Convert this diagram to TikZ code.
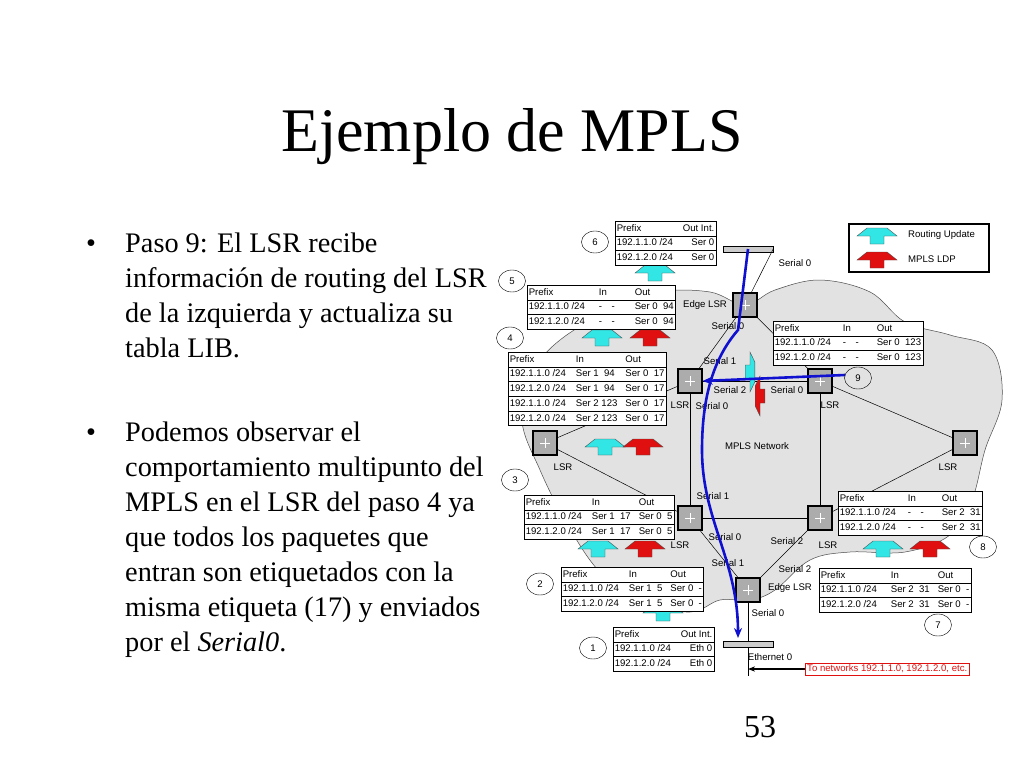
\documentclass[tikz,border=0pt]{standalone}
\usepackage{fontspec}
\setmainfont{Liberation Serif}
\newfontfamily\arialfont{Liberation Sans}
\usetikzlibrary{arrows.meta, positioning, calc, shapes.geometric}
\definecolor{cloudgray}{HTML}{E2E2E2}
\definecolor{updcyan}{HTML}{33E6E6}
\definecolor{ldpred}{HTML}{E01010}
\definecolor{pathblue}{HTML}{1010D0}
\newcommand{\tabfont}{\arialfont\fontsize{9.6}{11}\selectfont}
% block arrow: x, y, colour, extra transform
\newcommand{\blockarr}[4]{%
  \fill[#3, draw=black!70, line width=0.4pt, shift={(#1,#2)}, #4]
    (-10,-8) -- (10,-8) -- (20,0) -- (7,0) -- (7,8) -- (-7,8) -- (-7,0) -- (-20,0) -- cycle;}
\renewcommand{\arraystretch}{1.3}
\begin{document}
\begin{tikzpicture}[x=1pt, y=-1pt,
  lsrbox/.style={rectangle, draw=black, line width=1.2pt, fill=gray!65, minimum size=24pt, inner sep=0pt,
    path picture={\draw[white, line width=1pt] ($(path picture bounding box.center)+(-5,0)$) -- ++(10,0)
      ($(path picture bounding box.center)+(0,-5)$) -- ++(0,10);}},
  hubbox/.style={rectangle, draw=black, fill=gray!40, minimum width=50pt, minimum height=6pt, inner sep=0pt},
  tab/.style={draw=black, fill=white, inner sep=0pt, font=\tabfont, anchor=north west},
  num/.style={ellipse, draw=black, minimum width=27pt, minimum height=22pt, inner sep=0pt, font=\tabfont},
  lbl/.style={font=\tabfont, inner sep=1pt},
  link/.style={black, line width=0.5pt},
  bluepath/.style={pathblue, line width=2.6pt, -{Stealth[length=10pt, width=8pt]}},
  bullettext/.style={anchor=north west, align=left, inner sep=0pt, font=\fontsize{28.3}{35}\selectfont},
  bulletdot/.style={anchor=base west, inner sep=0pt, font=\fontsize{28.3}{35}\selectfont}
]
  \useasboundingbox[fill=white] (0,0) rectangle (1024,768);

  % Title, text and page number
  \node (title) at (512,137) {\fontsize{62}{70}\selectfont Ejemplo de MPLS};
  \node[bulletdot] (b1dot) at (86,252) {\textbullet};
  \node[bullettext] (b1) at (125,233) {Paso 9: El LSR recibe\\información de routing del LSR\\de la izquierda y actualiza su\\tabla LIB.};
  \node[bulletdot] (b2dot) at (86,441) {\textbullet};
  \node[bullettext] (b2) at (125,422) {Podemos observar el\\comportamiento multipunto del\\MPLS en el LSR del paso 4 ya\\que todos los paquetes que\\entran son etiquetados con la\\misma etiqueta (17) y enviados\\por el \textit{Serial0}.};
  \node (page) at (760,727) {\fontsize{32}{36}\selectfont 53};

  % Cloud
  \draw[fill=cloudgray, draw=black!70, line width=0.5pt] plot[smooth cycle, tension=0.6] coordinates {
    (560,340) (610,310) (660,292) (710,292) (745,305) (775,290) (820,280) (870,292) (905,322)
    (950,335) (992,350) (1002,400) (985,450) (972,500) (950,535) (905,552) (850,552) (810,560)
    (775,590) (750,600) (720,600) (690,612) (640,602) (598,570) (565,520) (540,470) (522,420) (535,370)};

  % Routers and hubs
  \node[hubbox] (hubtop) at (748,249) {};
  \node[hubbox] (hubbot) at (748,644) {};
  \node[lsrbox] (edgetop) at (745,305) {};
  \node[lsrbox] (lsrml) at (690,381) {};
  \node[lsrbox] (lsrmr) at (820,381) {};
  \node[lsrbox] (lsrfl) at (545,443) {};
  \node[lsrbox] (lsrfr) at (965,443) {};
  \node[lsrbox] (lsrll) at (690,518) {};
  \node[lsrbox] (lsrlr) at (820,518) {};
  \node[lsrbox] (edgebot) at (748,590) {};
  \coordinate (ethend) at (748,676);

  % Links
  \draw[link] (hubtop.east) -- (edgetop);
  \draw[link] (edgetop) -- (lsrml);
  \draw[link] (edgetop) -- (lsrmr);
  \draw[link] (lsrml) -- (lsrmr);
  \draw[link] (lsrml) -- (lsrfl);
  \draw[link] (lsrmr) -- (lsrfr);
  \draw[link] (lsrml) -- (lsrll);
  \draw[link] (lsrmr) -- (lsrlr);
  \draw[link] (lsrll) -- (lsrlr);
  \draw[link] (lsrfl) -- (lsrll);
  \draw[link] (lsrfr) -- (lsrlr);
  \draw[link] (lsrll) -- (edgebot);
  \draw[link] (lsrlr) -- (edgebot);
  \draw[link] (edgebot) -- (hubbot);
  \draw[link] (hubbot) -- (ethend);

  % Router and interface labels
  \node[lbl] (lbedgetop) at (705,305) {Edge LSR};
  \node[lbl] (lbml) at (680,405) {LSR};
  \node[lbl] (lbmr) at (830,405) {LSR};
  \node[lbl] (lbfl) at (563,467) {LSR};
  \node[lbl] (lbfr) at (948,467) {LSR};
  \node[lbl] (lbll) at (680,545) {LSR};
  \node[lbl] (lblr) at (828,545) {LSR};
  \node[lbl] (lbedgebot) at (790,588) {Edge LSR};
  \node[lbl] (s1) at (795,263) {Serial 0};
  \node[lbl] (s2) at (728,326) {Serial 0};
  \node[lbl] (s3) at (720,361) {Serial 1};
  \node[lbl] (s4) at (730,390) {Serial 2};
  \node[lbl] (s5) at (787,390) {Serial 0};
  \node[lbl] (s6) at (712,406) {Serial 0};
  \node[lbl] (net) at (757,446) {MPLS Network};
  \node[lbl] (s7) at (713,496) {Serial 1};
  \node[lbl] (s8) at (725,537) {Serial 0};
  \node[lbl] (s9) at (787,541) {Serial 2};
  \node[lbl] (s10) at (728,563) {Serial 1};
  \node[lbl] (s11) at (795,569) {Serial 2};
  \node[lbl] (s12) at (768,613) {Serial 0};
  \node[lbl] (eth) at (770,657) {Ethernet 0};

  % Update arrows
  \blockarr{655}{273}{updcyan}{}
  \blockarr{602}{338}{updcyan}{}
  \blockarr{650}{338}{ldpred}{}
  \blockarr{605}{447}{updcyan}{}
  \blockarr{643}{447}{ldpred}{}
  \blockarr{598}{549}{updcyan}{}
  \blockarr{645}{549}{ldpred}{}
  \blockarr{663}{613}{updcyan}{}
  \blockarr{883}{549}{updcyan}{}
  \blockarr{930}{549}{ldpred}{}
  \blockarr{750}{372}{updcyan}{rotate=-90, yscale=0.6}
  \blockarr{760}{396}{ldpred}{rotate=90, yscale=0.6}

  % Label switched path
  \draw[bluepath] (hubtop.center) -- (738,330) .. controls (712,360) and (702,400) .. (702,450)
    .. controls (702,520) and (738,560) .. (738,638);
  \draw[bluepath] (845,375) -- (lsrml.east);

  % Tables
  \node[tab] (t6) at (615,221) {\begin{tabular}{@{\,}l@{\hspace{10pt}}r@{\,}}
    Prefix & Out Int.\\\hline 192.1.1.0 /24 & Ser 0\\\hline 192.1.2.0 /24 & Ser 0\end{tabular}};
  \node[tab] (t5) at (527,285) {\begin{tabular}{@{\,}l@{\hspace{14pt}}l@{\hspace{20pt}}l@{\,}}
    Prefix & In & Out\\\hline 192.1.1.0 /24 & -\quad - & Ser 0~~94\\\hline 192.1.2.0 /24 & -\quad - & Ser 0~~94\end{tabular}};
  \node[tab] (t4) at (508,352) {\begin{tabular}{@{\,}l@{\hspace{10pt}}l@{\hspace{8pt}}l@{\,}}
    Prefix & In & Out\\\hline 192.1.1.0 /24 & Ser 1~~94 & Ser 0~~17\\\hline 192.1.2.0 /24 & Ser 1~~94 & Ser 0~~17\\\hline
    192.1.1.0 /24 & Ser 2 123 & Ser 0~~17\\\hline 192.1.2.0 /24 & Ser 2 123 & Ser 0~~17\end{tabular}};
  \node[tab] (t9) at (773,321) {\begin{tabular}{@{\,}l@{\hspace{12pt}}l@{\hspace{18pt}}l@{\,}}
    Prefix & In & Out\\\hline 192.1.1.0 /24 & -\quad - & Ser 0~~123\\\hline 192.1.2.0 /24 & -\quad - & Ser 0~~123\end{tabular}};
  \node[tab] (t3) at (524,495) {\begin{tabular}{@{\,}l@{\hspace{10pt}}l@{\hspace{8pt}}l@{\,}}
    Prefix & In & Out\\\hline 192.1.1.0 /24 & Ser 1~~17 & Ser 0~~5\\\hline 192.1.2.0 /24 & Ser 1~~17 & Ser 0~~5\end{tabular}};
  \node[tab] (t8) at (838,491) {\begin{tabular}{@{\,}l@{\hspace{12pt}}l@{\hspace{18pt}}l@{\,}}
    Prefix & In & Out\\\hline 192.1.1.0 /24 & -\quad - & Ser 2~~31\\\hline 192.1.2.0 /24 & -\quad - & Ser 2~~31\end{tabular}};
  \node[tab] (t2) at (561,567) {\begin{tabular}{@{\,}l@{\hspace{10pt}}l@{\hspace{8pt}}l@{\,}}
    Prefix & In & Out\\\hline 192.1.1.0 /24 & Ser 1~~5 & Ser 0~~-\\\hline 192.1.2.0 /24 & Ser 1~~5 & Ser 0~~-\end{tabular}};
  \node[tab] (t7) at (819,568) {\begin{tabular}{@{\,}l@{\hspace{14pt}}l@{\hspace{8pt}}l@{\,}}
    Prefix & In & Out\\\hline 192.1.1.0 /24 & Ser 2~~31 & Ser 0~~-\\\hline 192.1.2.0 /24 & Ser 2~~31 & Ser 0~~-\end{tabular}};
  \node[tab] (t1) at (613,627) {\begin{tabular}{@{\,}l@{\hspace{10pt}}r@{\,}}
    Prefix & Out Int.\\\hline 192.1.1.0 /24 & Eth 0\\\hline 192.1.2.0 /24 & Eth 0\end{tabular}};

  % Step numbers
  \node[num] (n6) at (595,242) {6};
  \node[num] (n5) at (512,281) {5};
  \node[num] (n4) at (510,338) {4};
  \node[num] (n3) at (515,480) {3};
  \node[num] (n2) at (540,584) {2};
  \node[num] (n1) at (593,648) {1};
  \node[num] (n9) at (858,378) {9};
  \node[num] (n8) at (983,547) {8};
  \node[num] (n7) at (938,625) {7};

  % Legend
  \node[draw=black, line width=1.5pt, minimum width=140pt, minimum height=48pt, anchor=north west] (legend) at (848,223) {};
  \blockarr{877}{236}{updcyan}{}
  \blockarr{877}{260}{ldpred}{}
  \node[lbl, anchor=west] (legupd) at (907,235) {Routing Update};
  \node[lbl, anchor=west] (legldp) at (907,259) {MPLS LDP};

  % Destination networks
  \node[draw=ldpred, text=ldpred, font=\tabfont, inner sep=2pt, anchor=west] (dest) at (805,669) {To networks 192.1.1.0, 192.1.2.0, etc.};
  \draw[black, line width=1.6pt, -{Stealth[length=7pt]}] (dest.west) -- (ethend |- dest.west);
\end{tikzpicture}
\end{document}
